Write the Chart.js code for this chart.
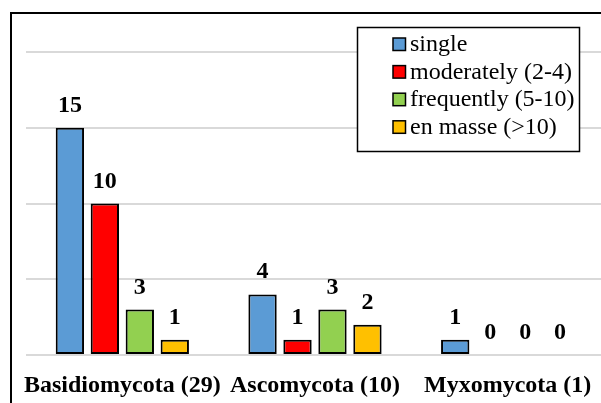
<!DOCTYPE html>
<html>
<head>
<meta charset="utf-8">
<script src="https://cdn.jsdelivr.net/npm/chart.js@4.4.1/dist/chart.umd.min.js"></script>
<style>
  html, body { margin: 0; padding: 0; background: #fff; overflow: hidden; }
  #wrap { position: relative; width: 610px; height: 403px; }
</style>
</head>
<body>
<div id="wrap"><canvas id="fungiChart" width="610" height="403"></canvas></div>
<script>
const categories = ['Basidiomycota (29)', 'Ascomycota (10)', 'Myxomycota (1)'];
const seriesNames = ['single', 'moderately (2-4)', 'frequently (5-10)', 'en masse (>10)'];
const singleVals = [15, 4, 1];
const moderatelyVals = [10, 1, 0];
const frequentlyVals = [3, 3, 0];
const enMasseVals = [1, 2, 0];
const seriesColors = ['#5B9BD5', '#FF0000', '#92D050', '#FFC000'];

const FONT = '"Liberation Serif", "Times New Roman", serif';

// value labels above each bar
const valueLabels = {
  id: 'valueLabels',
  afterDatasetsDraw(chart) {
    const ctx = chart.ctx;
    ctx.save();
    ctx.font = 'bold 24px ' + FONT;
    ctx.fillStyle = '#000';
    ctx.textAlign = 'center';
    ctx.textBaseline = 'alphabetic';
    chart.data.datasets.forEach((ds, i) => {
      chart.getDatasetMeta(i).data.forEach((bar, j) => {
        ctx.fillText(String(ds.data[j]), bar.x, bar.y - 16);
      });
    });
    ctx.restore();
  }
};

// boxed legend in the top right + outer frame
const boxLegend = {
  id: 'boxLegend',
  afterDraw(chart) {
    const ctx = chart.ctx;
    ctx.save();
    // outer frame (right and bottom edges fall outside the picture)
    ctx.strokeStyle = '#000';
    ctx.lineWidth = 2;
    ctx.strokeRect(11, 13, 700, 500);

    const x0 = 357.5, y0 = 27.5, w = 222, h = 124;
    ctx.fillStyle = '#fff';
    ctx.fillRect(x0, y0, w, h);
    ctx.lineWidth = 1.5;
    ctx.strokeRect(x0, y0, w, h);

    ctx.font = '24px ' + FONT;
    ctx.textBaseline = 'middle';
    ctx.textAlign = 'left';
    chart.data.datasets.forEach((ds, i) => {
      const cy = 44 + i * 27.6;
      ctx.fillStyle = ds.backgroundColor;
      ctx.fillRect(393, cy - 6, 12.5, 12.5);
      ctx.lineWidth = 1.5;
      ctx.strokeStyle = '#000';
      ctx.strokeRect(393, cy - 6, 12.5, 12.5);
      ctx.fillStyle = '#000';
      ctx.fillText(ds.label, 410, cy + 1);
    });
    ctx.restore();
  }
};

const allVals = [singleVals, moderatelyVals, frequentlyVals, enMasseVals];

new Chart(document.getElementById('fungiChart'), {
  type: 'bar',
  data: {
    labels: categories,
    datasets: seriesNames.map((name, i) => ({
      label: name,
      data: allVals[i],
      backgroundColor: seriesColors[i],
      borderColor: '#000',
      borderWidth: 2,
      borderSkipped: false,
      categoryPercentage: 0.726,
      barPercentage: 0.81
    }))
  },
  options: {
    responsive: false,
    animation: false,
    layout: { padding: { left: 26, right: 6, top: 52, bottom: 0 } },
    plugins: {
      legend: { display: false },
      tooltip: { enabled: false }
    },
    scales: {
      x: {
        grid: { display: false, drawTicks: false },
        border: { display: false },
        afterFit: (scale) => { scale.height = 48; },
        ticks: {
          color: '#000',
          padding: 16,
          maxRotation: 0,
          autoSkip: false,
          font: { family: FONT, size: 24, weight: 'bold' }
        }
      },
      y: {
        min: 0,
        max: 20,
        ticks: { display: false, stepSize: 5 },
        grid: { color: '#d9d9d9', lineWidth: 2, drawTicks: false },
        border: { display: false }
      }
    }
  },
  plugins: [valueLabels, boxLegend]
});
</script>
</body>
</html>
